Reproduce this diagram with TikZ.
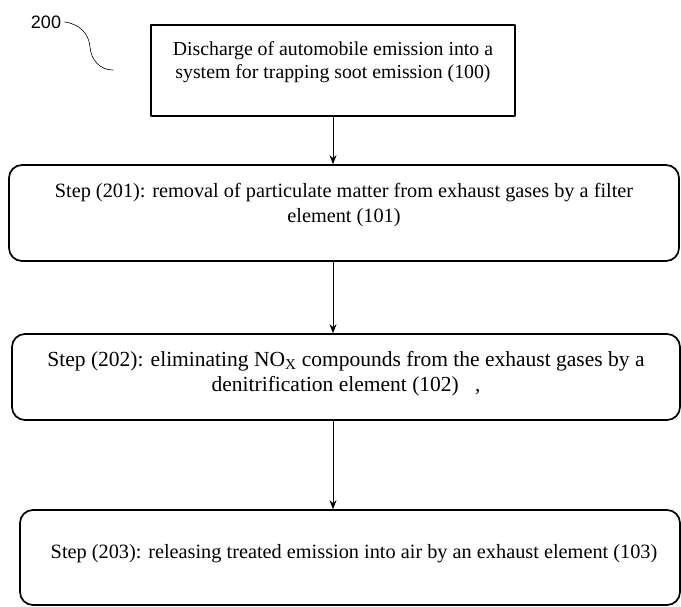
\documentclass[tikz,border=0pt]{standalone}
\usepackage{fontspec}
\setmainfont{Liberation Serif}
\newfontfamily\lblfont{Liberation Sans}
\usetikzlibrary{arrows.meta}
\begin{document}
\begin{tikzpicture}[x=1pt, y=-1pt, line join=round, line cap=round, >={Stealth[length=9pt,width=7pt]},
	font=\fontsize{20.3}{25}\selectfont,
	topbox/.style={draw, line width=1.7pt, inner sep=0pt},
	stepbox/.style={draw, line width=1.7pt, rounded corners=13pt, inner sep=0pt},
	steptext/.style={align=center, inner sep=0pt},
	flow/.style={->, line width=0.9pt}]
	\useasboundingbox (0,0) rectangle (681,607);
	% reference label
	\node[font=\lblfont\fontsize{18}{20}\selectfont] (lbl) at (46,22) {200};
	\coordinate (tail) at (113,70);
	\draw[line width=0.6pt] (lbl.east) .. controls (80,24) and (89,34) .. (90,47)
		.. controls (91,60) and (100,70) .. (tail);
	% boxes
	\node[topbox, minimum width=364pt, minimum height=91pt] (b100) at (333,70.5) {};
	\node[stepbox, minimum width=670pt, minimum height=96pt] (b201) at (344,213) {};
	\node[stepbox, minimum width=668pt, minimum height=86pt] (b202) at (346,377) {};
	\node[stepbox, minimum width=660pt, minimum height=95pt] (b203) at (350,557.5) {};
	% texts
	\node[steptext, font=\fontsize{19.8}{23}\selectfont] (t100) at (333,62) {Discharge of automobile emission into a\\system for trapping soot emission (100)};
	\node[steptext] (t201) at (344,205) {Step (201): removal of particulate matter from exhaust gases by a filter\\element (101)};
	\node[steptext, font=\fontsize{21.5}{25}\selectfont] (t202) at (346,374) {Step (202): eliminating NO\textsubscript{X} compounds from the exhaust gases by a\\denitrification element (102) \ \ ,};
	\node[steptext] (t203) at (354,554) {Step (203): releasing treated emission into air by an exhaust element (103)};
	% arrows
	\draw[flow] (b100.south) -- (b100.south |- b201.north);
	\draw[flow] (b100.south |- b201.south) -- (b100.south |- b202.north);
	\draw[flow] (b100.south |- b202.south) -- (b100.south |- b203.north);
\end{tikzpicture}
\end{document}
